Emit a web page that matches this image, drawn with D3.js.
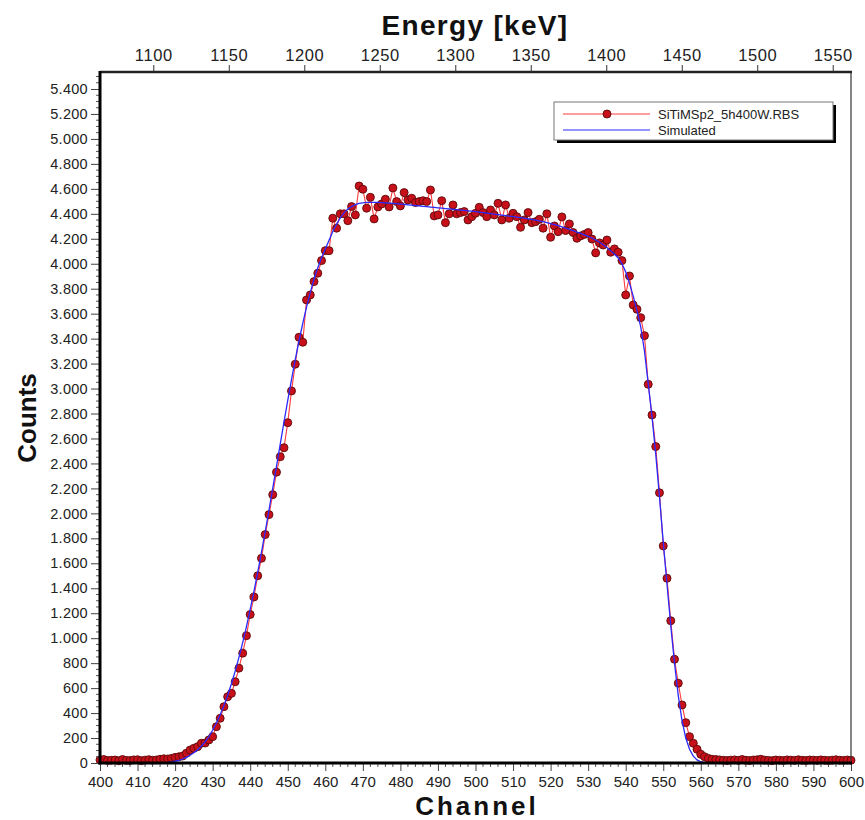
<!DOCTYPE html>
<html>
<head>
<meta charset="utf-8">
<script src="https://cdn.jsdelivr.net/npm/d3@7"></script>
<style>
  html, body { margin: 0; padding: 0; background: #fff; }
  svg { display: block; }
  text { font-family: "Liberation Sans", Arial, sans-serif; }
</style>
</head>
<body>
<svg id="chart" width="865" height="820"></svg>
<script>
// RBS spectrum: measured counts per channel and simulated fit
const firstChannel = 400;

const measuredCounts = [
  // 400-416 background
  25, 28, 20, 22, 24, 18, 28, 21, 20, 25, 26, 19, 23, 27, 22, 24, 30,
  // 417-456 rising edge
  34, 32, 37, 45, 50, 56, 78, 104, 118, 131, 158, 160, 185, 211, 291, 358, 451, 531, 558, 651,
  760, 880, 1020, 1190, 1330, 1500, 1640, 1830, 1990, 2150, 2330, 2454, 2526, 2727, 2981, 3195,
  3411, 3371, 3710, 3750,
  // 457-479 top of edge
  3857, 3924, 4025, 4105, 4105, 4365, 4285, 4400, 4400, 4345, 4458, 4391, 4623, 4597, 4445, 4532,
  4359, 4455, 4479, 4517, 4455, 4607, 4498,
  // 480-533 plateau
  4463, 4570, 4511, 4525, 4490, 4498, 4505, 4498, 4591, 4383, 4391, 4505, 4329, 4400, 4471, 4400,
  4410, 4418, 4351, 4377, 4404, 4452, 4410, 4377, 4431, 4391, 4484, 4351, 4471, 4365, 4404, 4377,
  4292, 4351, 4410, 4329, 4337, 4356, 4285, 4400, 4212, 4303, 4257, 4375, 4266, 4319, 4250, 4204,
  4223, 4235, 4250, 4198, 4087, 4167,
  // 534-563 falling edge
  4150, 4190, 4092, 4119, 4092, 4025, 3750, 3902, 3670, 3635, 3568, 3424, 3034, 2788, 2535, 2165,
  1739, 1480, 1140, 831, 639, 465, 323, 211, 158, 110, 70, 50, 37, 30,
  // 564-600 background
  28, 25, 22, 20, 23, 25, 21, 28, 22, 20, 24, 26, 30, 23, 21, 19, 24, 22, 20, 25, 23, 21, 26, 22,
  20, 24, 23, 21, 25, 22, 20, 23, 26, 22, 21, 24, 22
];

const simulatedCounts = [
  // 400-416
  0, 0, 0, 0, 0, 0, 0, 0, 0, 0, 0, 0, 0, 0, 0, 0, 0,
  // 417-456
  0, 3, 8, 14, 22, 32, 45, 62, 82, 106, 135, 170, 212, 262, 320, 386, 460, 543, 635, 736,
  846, 965, 1093, 1230, 1375, 1528, 1688, 1854, 2025, 2200, 2377, 2555, 2732, 2905, 3072, 3232,
  3383, 3523, 3652, 3768,
  // 457-479
  3878, 3968, 4048, 4118, 4188, 4258, 4318, 4368, 4408, 4438, 4458, 4473, 4483, 4488, 4491, 4492,
  4492, 4491, 4490, 4488, 4486, 4484, 4481,
  // 480-533
  4478, 4475, 4472, 4469, 4466, 4463, 4460, 4457, 4454, 4451, 4448, 4445, 4442, 4439, 4436, 4433,
  4430, 4427, 4424, 4421, 4418, 4414, 4410, 4406, 4402, 4398, 4394, 4390, 4386, 4382, 4378, 4374,
  4370, 4365, 4360, 4355, 4349, 4343, 4337, 4330, 4322, 4314, 4305, 4296, 4286, 4276, 4265, 4254,
  4243, 4232, 4220, 4206, 4190, 4172,
  // 534-563
  4152, 4130, 4105, 4078, 4046, 4000, 3935, 3845, 3740, 3625, 3495, 3300, 3040, 2775, 2475, 2130,
  1770, 1430, 1100, 800, 540, 340, 200, 110, 55, 25, 10, 3, 0, 0,
  // 564-600
  0, 0, 0, 0, 0, 0, 0, 0, 0, 0, 0, 0, 0, 0, 0, 0, 0, 0, 0, 0, 0, 0, 0, 0,
  0, 0, 0, 0, 0, 0, 0, 0, 0, 0, 0, 0, 0
];

const channelTicks = [400, 410, 420, 430, 440, 450, 460, 470, 480, 490, 500,
                      510, 520, 530, 540, 550, 560, 570, 580, 590, 600];
const energyTicks = [1100, 1150, 1200, 1250, 1300, 1350, 1400, 1450, 1500, 1550];
const countTicks = d3.range(0, 5401, 200);

const legendLabels = ["SiTiMSp2_5h400W.RBS", "Simulated"];

const measured = measuredCounts.map((c, i) => ({ ch: firstChannel + i, c }));
const simulated = simulatedCounts.map((c, i) => ({ ch: firstChannel + i, c }));

// ---- layout ----
const plot = { left: 100, right: 851, top: 72, bottom: 763 };
const svg = d3.select("#chart");

const x = d3.scaleLinear().domain([400, 600]).range([plot.left, plot.right]);
const xE = d3.scaleLinear().domain([1064.7, 1562.1]).range([plot.left, plot.right]);
const y = d3.scaleLinear().domain([0, 5400]).range([plot.bottom, 89]);

const locale = d3.formatLocale({ decimal: ",", thousands: ".", grouping: [3], currency: ["", ""] });
const fmt = locale.format(",");

// ---- data ----
const g = svg.append("g");
g.append("path")
  .datum(measured)
  .attr("fill", "none")
  .attr("stroke", "#ff3b3b")
  .attr("stroke-width", 1.1)
  .attr("d", d3.line().x(d => x(d.ch)).y(d => y(d.c)));

g.selectAll("circle.pt")
  .data(measured)
  .join("circle")
  .attr("class", "pt")
  .attr("cx", d => x(d.ch))
  .attr("cy", d => y(d.c))
  .attr("r", 4)
  .attr("fill", "#c8101a")
  .attr("stroke", "#5a0a0a")
  .attr("stroke-width", 0.9);

g.append("path")
  .datum(simulated)
  .attr("fill", "none")
  .attr("stroke", "#2a2aff")
  .attr("stroke-width", 1.3)
  .attr("d", d3.line().x(d => x(d.ch)).y(d => y(d.c)));

// ---- frame ----
svg.append("line").attr("x1", plot.right).attr("x2", plot.right)
  .attr("y1", plot.top).attr("y2", plot.bottom).attr("stroke", "#333").attr("stroke-width", 1.2);
svg.append("line").attr("x1", plot.left).attr("x2", plot.right + 1)
  .attr("y1", plot.top).attr("y2", plot.top).attr("stroke", "#222").attr("stroke-width", 2.4);

// ---- left axis (counts) ----
const yAxis = svg.append("g").attr("transform", `translate(${plot.left},0)`);
const yMinor = d3.range(0, 5537, 50).filter(v => v % 200 !== 0);
yAxis.selectAll("line.minor").data(yMinor).join("line")
  .attr("x1", -4).attr("x2", 0).attr("y1", d => y(d)).attr("y2", d => y(d))
  .attr("stroke", "#555").attr("stroke-width", 1);
yAxis.call(d3.axisLeft(y).tickValues(countTicks).tickFormat(fmt).tickSize(9).tickPadding(3))
  .call(a => a.select(".domain").remove())
  .call(a => a.selectAll(".tick line").attr("stroke", "#444"))
  .call(a => a.selectAll(".tick text").attr("fill", "#222").style("font-size", "14.5px")
    .style("letter-spacing", "0.3px")
    .style("font-family", "'Liberation Sans', Arial, sans-serif"));
svg.append("line").attr("x1", plot.left).attr("x2", plot.left)
  .attr("y1", plot.top - 1).attr("y2", plot.bottom + 1.5).attr("stroke", "#000").attr("stroke-width", 3);

// ---- bottom axis (channel) ----
const xAxis = svg.append("g").attr("transform", `translate(0,${plot.bottom})`);
const xMinor = d3.range(402, 600, 2).filter(v => v % 10 !== 0);
xAxis.selectAll("line.minor").data(xMinor).join("line")
  .attr("x1", d => x(d)).attr("x2", d => x(d)).attr("y1", 0).attr("y2", 4)
  .attr("stroke", "#555").attr("stroke-width", 1);
xAxis.call(d3.axisBottom(x).tickValues(channelTicks).tickFormat(d3.format("d")).tickSize(8).tickPadding(5))
  .call(a => a.select(".domain").remove())
  .call(a => a.selectAll(".tick line").attr("stroke", "#444"))
  .call(a => a.selectAll(".tick text").attr("fill", "#222").style("font-size", "15px")
    .style("font-family", "'Liberation Sans', Arial, sans-serif"));
svg.append("line").attr("x1", plot.left - 1.5).attr("x2", plot.right + 1)
  .attr("y1", plot.bottom).attr("y2", plot.bottom).attr("stroke", "#000").attr("stroke-width", 3);

// ---- top axis (energy) ----
const eAxis = svg.append("g").attr("transform", `translate(0,${plot.top})`);
eAxis.call(d3.axisTop(xE).tickValues(energyTicks).tickFormat(d3.format("d")).tickSize(7).tickPadding(4))
  .call(a => a.select(".domain").remove())
  .call(a => a.selectAll(".tick line").attr("stroke", "#333"))
  .call(a => a.selectAll(".tick text").attr("fill", "#222").style("font-size", "16.5px")
    .style("letter-spacing", "0.6px")
    .style("font-family", "'Liberation Sans', Arial, sans-serif"));

// ---- axis titles ----
svg.append("text").attr("x", 475).attr("y", 35).attr("text-anchor", "middle")
  .style("font-size", "28px").style("font-weight", "bold").style("letter-spacing", "1.3px")
  .attr("fill", "#111").text("Energy [keV]");
svg.append("text").attr("x", 477).attr("y", 815).attr("text-anchor", "middle")
  .style("font-size", "26px").style("font-weight", "bold").style("letter-spacing", "3px")
  .attr("fill", "#111").text("Channel");
svg.append("text").attr("transform", "translate(36,418) rotate(-90)").attr("text-anchor", "middle")
  .style("font-size", "26px").style("font-weight", "bold")
  .attr("fill", "#111").text("Counts");

// ---- legend ----
const lg = svg.append("g").attr("transform", "translate(554,102)");
lg.append("rect").attr("x", 3).attr("y", 3).attr("width", 279).attr("height", 38).attr("fill", "#000");
lg.append("rect").attr("x", 0).attr("y", 0).attr("width", 279).attr("height", 38)
  .attr("fill", "#fff").attr("stroke", "#777").attr("stroke-width", 1);
lg.append("line").attr("x1", 9).attr("x2", 96).attr("y1", 12).attr("y2", 12)
  .attr("stroke", "#ff3b3b").attr("stroke-width", 1.1);
lg.append("circle").attr("cx", 53).attr("cy", 12).attr("r", 4)
  .attr("fill", "#c8101a").attr("stroke", "#5a0a0a").attr("stroke-width", 0.9);
lg.append("line").attr("x1", 9).attr("x2", 96).attr("y1", 28).attr("y2", 28)
  .attr("stroke", "#2a2aff").attr("stroke-width", 1.2);
lg.selectAll("text.lab").data(legendLabels).join("text")
  .attr("class", "lab")
  .attr("x", 104).attr("y", (d, i) => 17 + i * 16)
  .style("font-size", "13px").attr("fill", "#222").text(d => d);
</script>
</body>
</html>
